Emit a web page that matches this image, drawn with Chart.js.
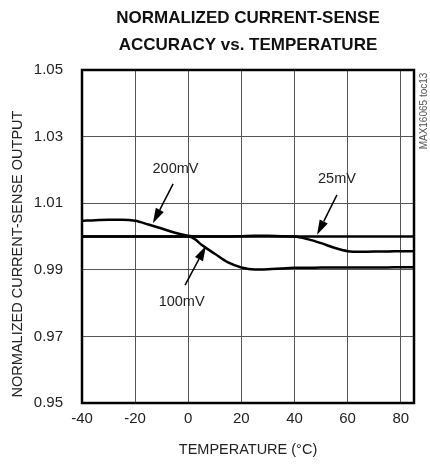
<!DOCTYPE html>
<html>
<head>
<meta charset="utf-8">
<script src="https://cdn.jsdelivr.net/npm/chart.js@4/dist/chart.umd.min.js"></script>
<style>
  html, body { margin: 0; padding: 0; background: #fff; }
  canvas { display: block; }
</style>
</head>
<body>
<canvas id="c" width="430" height="464"></canvas>
<script>
// ---- data ----
const temperatures = [-40, -35, -30, -25, -20, -15, -10, -5, 0, 2.5, 5, 10, 15, 20, 25, 30, 35, 40, 45, 50, 55, 60, 65, 70, 75, 80, 85];
const output200mV = [1.0047, 1.0049, 1.0050, 1.0050, 1.0047, 1.0036, 1.0024, 1.0011, 1.0002, 1.0000, 1.0000, 1.0000, 1.0000, 1.0000, 1.0000, 1.0000, 1.0000, 1.0000, 1.0000, 1.0000, 1.0000, 1.0000, 1.0000, 1.0000, 1.0000, 1.0000, 1.0000];
const output100mV = [1.0000, 1.0000, 1.0000, 1.0000, 1.0000, 1.0000, 1.0000, 1.0000, 1.0000, 0.9992, 0.9975, 0.9948, 0.9922, 0.9907, 0.9901, 0.9902, 0.9904, 0.9906, 0.9906, 0.9907, 0.9907, 0.9907, 0.9907, 0.9907, 0.9907, 0.9908, 0.9908];
const output25mV  = [1.0000, 1.0000, 1.0000, 1.0000, 1.0000, 1.0000, 1.0000, 1.0000, 1.0000, 1.0000, 1.0000, 1.0000, 1.0000, 1.0001, 1.0002, 1.0002, 1.0001, 1.0000, 0.9992, 0.9980, 0.9966, 0.9956, 0.9954, 0.9955, 0.9955, 0.9956, 0.9956];
const seriesNames = ['200mV', '100mV', '25mV'];
const xTickValues = [-40, -20, 0, 20, 40, 60, 80];
const yTickValues = [0.95, 0.97, 0.99, 1.01, 1.03, 1.05];
const chartTitle = ['NORMALIZED CURRENT-SENSE', 'ACCURACY vs. TEMPERATURE'];
const xAxisTitle = 'TEMPERATURE (°C)';
const yAxisTitle = 'NORMALIZED CURRENT-SENSE OUTPUT';
const watermark = 'MAX16065 toc13';

// callouts (data coordinates)
const calloutText  = ['200mV', '100mV', '25mV'];
const calloutTextX = [-4.8, -2.5, 56.0];
const calloutTextY = [1.0203, 0.9803, 1.0173];
const arrowFromX   = [-5.7, -1.2, 56.0];
const arrowFromY   = [1.0158, 0.9854, 1.0125];
const arrowToX     = [-13.3, 6.7, 48.5];
const arrowToY     = [1.0040, 0.9972, 1.0005];

const FONT = "'Liberation Sans', Arial, sans-serif";
const TEXT = '#222';

function pts(vals) { return temperatures.map((t, i) => ({ x: t, y: vals[i] })); }

const extras = {
  id: 'extras',
  afterDraw(chart) {
    const { ctx, chartArea: a, scales: { x, y } } = chart;
    ctx.save();
    // frame
    ctx.strokeStyle = '#000';
    ctx.lineWidth = 2.5;
    ctx.strokeRect(a.left, a.top, a.right - a.left, a.bottom - a.top);
    // callouts
    ctx.font = '14.5px ' + FONT;
    ctx.textAlign = 'center';
    ctx.textBaseline = 'middle';
    for (let i = 0; i < calloutText.length; i++) {
      ctx.fillStyle = TEXT;
      ctx.fillText(calloutText[i], x.getPixelForValue(calloutTextX[i]), y.getPixelForValue(calloutTextY[i]));
      const x0 = x.getPixelForValue(arrowFromX[i]), y0 = y.getPixelForValue(arrowFromY[i]);
      const x1 = x.getPixelForValue(arrowToX[i]), y1 = y.getPixelForValue(arrowToY[i]);
      const ang = Math.atan2(y1 - y0, x1 - x0);
      const hl = 15, hw = 4.5;
      const bx = x1 - hl * Math.cos(ang), by = y1 - hl * Math.sin(ang);
      ctx.strokeStyle = '#000';
      ctx.lineWidth = 1.5;
      ctx.beginPath(); ctx.moveTo(x0, y0); ctx.lineTo(bx, by); ctx.stroke();
      ctx.fillStyle = '#000';
      ctx.beginPath();
      ctx.moveTo(x1, y1);
      ctx.lineTo(bx + hw * Math.sin(ang), by - hw * Math.cos(ang));
      ctx.lineTo(bx - hw * Math.sin(ang), by + hw * Math.cos(ang));
      ctx.closePath(); ctx.fill();
    }
    // y-axis title
    ctx.save();
    ctx.translate(18, 254);
    ctx.rotate(-Math.PI / 2);
    ctx.fillStyle = TEXT;
    ctx.font = '14.5px ' + FONT;
    ctx.fillText(yAxisTitle, 0, 0);
    ctx.restore();
    // watermark
    ctx.save();
    ctx.translate(424, 111);
    ctx.rotate(-Math.PI / 2);
    ctx.fillStyle = '#555';
    ctx.font = '10px ' + FONT;
    ctx.fillText(watermark, 0, 0);
    ctx.restore();
    ctx.restore();
  }
};

const lineStyle = {
  borderColor: '#000', borderWidth: 2.5, pointRadius: 0, fill: false,
  cubicInterpolationMode: 'monotone'
};

new Chart(document.getElementById('c'), {
  type: 'line',
  data: {
    datasets: [
      Object.assign({ label: seriesNames[0], data: pts(output200mV) }, lineStyle),
      Object.assign({ label: seriesNames[1], data: pts(output100mV) }, lineStyle),
      Object.assign({ label: seriesNames[2], data: pts(output25mV) }, lineStyle)
    ]
  },
  options: {
    responsive: false,
    animation: false,
    devicePixelRatio: 1,
    layout: { padding: { left: 0, right: 16, top: 0, bottom: 0 } },
    plugins: {
      legend: { display: false },
      tooltip: { enabled: false },
      title: {
        display: true,
        text: chartTitle,
        fullSize: false,
        color: '#111',
        font: { family: FONT, size: 17, weight: 'bold', lineHeight: 1.57 },
        padding: { top: 5, bottom: 11.6 }
      }
    },
    scales: {
      x: {
        type: 'linear',
        min: -40, max: 85,
        afterBuildTicks: s => { s.ticks = xTickValues.map(v => ({ value: v })); },
        afterFit: s => { s.height = 61; },
        grid: { color: '#555', lineWidth: 1, drawTicks: false },
        border: { display: false },
        ticks: { color: TEXT, font: { family: FONT, size: 15 }, padding: 7, maxRotation: 0, autoSkip: false },
        title: { display: true, text: xAxisTitle, color: TEXT, font: { family: FONT, size: 14.5 }, padding: { top: 0, bottom: 5 } }
      },
      y: {
        type: 'linear',
        min: 0.95, max: 1.05,
        afterBuildTicks: s => { s.ticks = yTickValues.map(v => ({ value: v })); },
        afterFit: s => { s.width = 82; },
        grid: { color: '#555', lineWidth: 1, drawTicks: false },
        border: { display: false },
        ticks: { color: TEXT, font: { family: FONT, size: 15 }, padding: 19, autoSkip: false,
                 callback: v => Number(v).toFixed(2) }
      }
    }
  },
  plugins: [extras]
});
</script>
</body>
</html>
